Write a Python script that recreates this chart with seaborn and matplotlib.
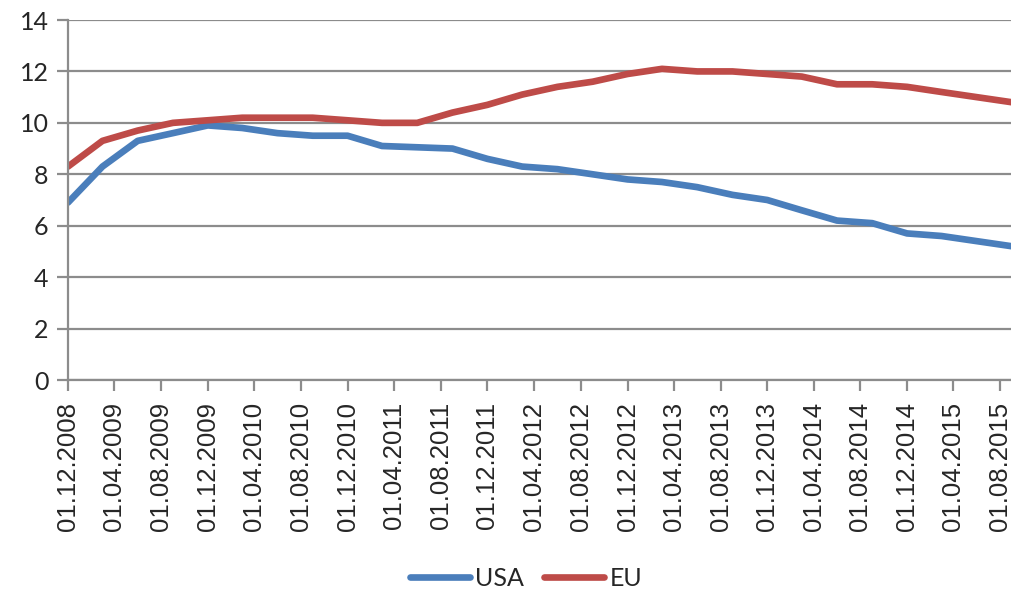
import pandas as pd
import matplotlib
matplotlib.use("Agg")
import matplotlib.pyplot as plt
import matplotlib.dates as mdates
import seaborn as sns

# Quarterly values
dates = pd.date_range("2008-12-01", periods=28, freq="3MS")
usa = [6.9, 8.3, 9.3, 9.6, 9.9, 9.8, 9.6, 9.5, 9.5, 9.1, 9.05, 9.0, 8.6, 8.3,
       8.2, 8.0, 7.8, 7.7, 7.5, 7.2, 7.0, 6.6, 6.2, 6.1, 5.7, 5.6, 5.4, 5.2]
eu = [8.3, 9.3, 9.7, 10.0, 10.1, 10.2, 10.2, 10.2, 10.1, 10.0, 10.0, 10.4, 10.7, 11.1,
      11.4, 11.6, 11.9, 12.1, 12.0, 12.0, 11.9, 11.8, 11.5, 11.5, 11.4, 11.2, 11.0, 10.8]
series_names = ["USA", "EU"]
colors = ["#4A7EBB", "#BE4B48"]
y_ticks = [0, 2, 4, 6, 8, 10, 12, 14]

df = pd.DataFrame({"Date": list(dates) * 2,
                   "Value": usa + eu,
                   "Series": ["USA"] * len(usa) + ["EU"] * len(eu)})

sns.set_style("white")
fig, ax = plt.subplots(figsize=(10.12, 5.92), dpi=100)
fig.subplots_adjust(left=68 / 1012, right=1.0, top=1 - 20 / 592, bottom=1 - 380 / 592)

sns.lineplot(data=df, x="Date", y="Value", hue="Series", hue_order=series_names,
             palette=colors, linewidth=4.8, ax=ax, legend=False,
             solid_capstyle="round", solid_joinstyle="round")

grid_col = "#8C8C8C"
ax.set_ylim(0, 14)
ax.set_yticks(y_ticks)
ax.set_xlim(dates[0], dates[-1])
ax.grid(axis="y", color=grid_col, linewidth=1.6)
ax.set_axisbelow(True)
for s in ["top", "right"]:
    ax.spines[s].set_visible(False)
for s in ["left", "bottom"]:
    ax.spines[s].set_color(grid_col)
    ax.spines[s].set_linewidth(1.6)

ax.xaxis.set_major_locator(mdates.MonthLocator(bymonth=[4, 8, 12], bymonthday=1))
ax.xaxis.set_major_formatter(mdates.DateFormatter("%d.%m.%Y"))
ax.tick_params(axis="both", direction="out", length=8, width=1.6, color=grid_col,
               bottom=True, left=True)
ax.tick_params(axis="x", pad=8)
ax.tick_params(axis="y", pad=6)
for lab in ax.get_xticklabels():
    lab.set_rotation(90)
    lab.set_fontfamily("Liberation Sans")
    lab.set_fontsize(18.5)
for lab in ax.get_yticklabels():
    lab.set_fontfamily("Lato")
    lab.set_fontsize(18)
ax.set_xlabel("")
ax.set_ylabel("")

handles = [plt.Line2D([], [], color=c, linewidth=4.8, solid_capstyle="round") for c in colors]
fig.legend(handles, series_names, loc="center", bbox_to_anchor=(0.52, 1 - 578 / 592),
           ncol=2, frameon=False, handlelength=2.4, handletextpad=0.2, columnspacing=0.8,
           prop={"family": "Lato", "size": 18})

fig.savefig("out.png", dpi=100)
